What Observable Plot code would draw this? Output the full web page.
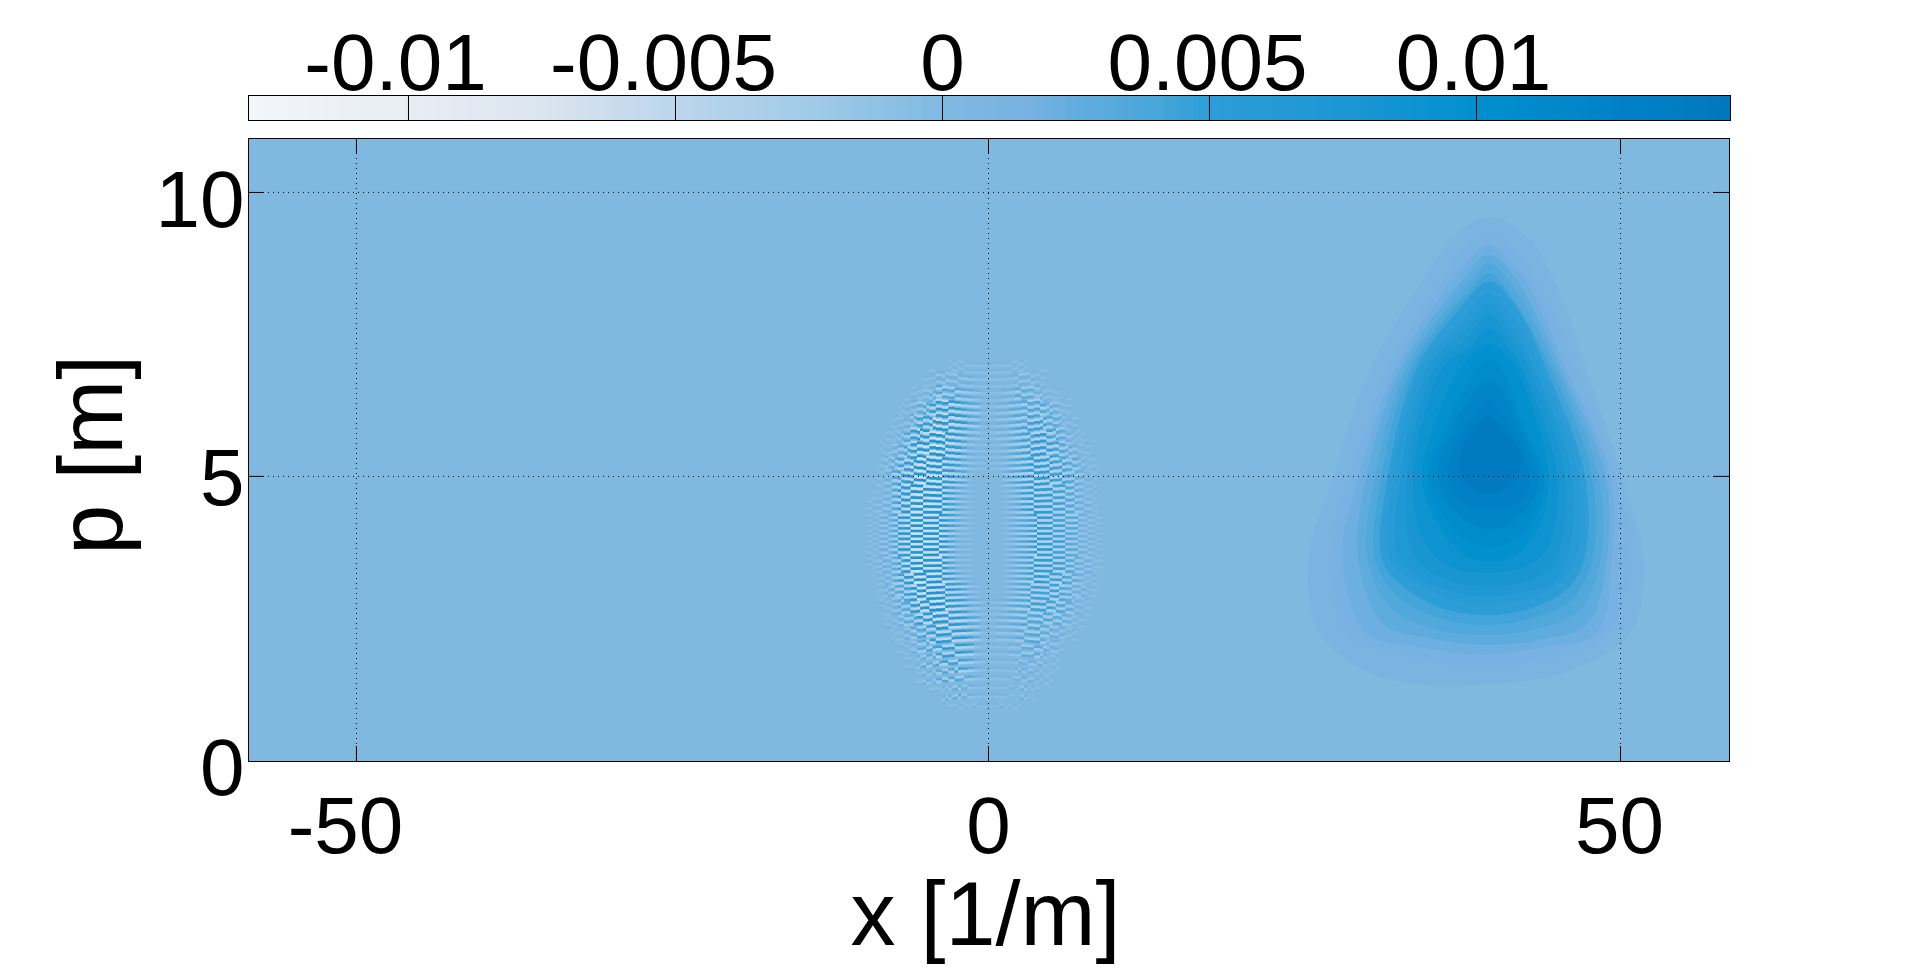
<!DOCTYPE html>
<html>
<head>
<meta charset="utf-8">
<style>html,body{margin:0;padding:0;background:#fff}svg{display:block}</style>
<script src="https://cdn.jsdelivr.net/npm/d3@7"></script>
<script src="https://cdn.jsdelivr.net/npm/@observablehq/plot@0.6"></script>
</head>
<body>
<div id="bar"></div>
<div id="main"></div>
<script>
// ---- axes ----
const xDomain = [-58.54, 58.62];
const pDomain = [-0.02, 10.95];
const barDomain = [-0.012996, 0.014757];
const xTicks = [-50, 0, 50];
const xTickShift = [-11, 0, -1];
const pTicks = [0, 5, 10];
const pTickShift = [9, 3, 9];
const barTicks = [-0.01, -0.005, 0, 0.005, 0.01];
const barTickShift = [-13, -12, 0, -2, -3];
const xTitle = "x [1/m]";
const pTitle = "p [m]";

// ---- colour map ----
const colorValues = [-0.013, -0.01, -0.0075, -0.005, -0.0025, 0, 0.0015, 0.0025, 0.004, 0.005, 0.0075, 0.01, 0.0125, 0.0148];
const colorStops = ["#f2f5f9", "#e8edf4", "#dbe5ef", "#bbd5ec", "#a0cbe8", "#7fb9e0", "#78b2e2", "#62acde", "#47a6da", "#2c9dd7", "#1c96d3", "#0090ce", "#0082c8", "#0077be"];

// ---- right-hand lobe: filled contours, [x, p] ----
const contourLevels = [0.001, 0.0015, 0.002, 0.0027, 0.0035, 0.0042, 0.005, 0.0058, 0.0068, 0.0078, 0.0088, 0.0098, 0.0108, 0.0119, 0.013, 0.014];
const contour01 = [[39.6,9.57],[42.6,9.22],[44.85,8.4],[47.2,6.93],[50.1,5],[51.8,3.53],[50.75,2.24],[45.75,1.56],[38.9,1.33],[31,1.47],[26.2,2.24],[25.3,3.53],[27.3,5],[30.3,6.93],[34.2,8.4],[36.8,9.22]];
const contour02 = [[39.6,9.25],[41.6,8.96],[43.5,8.4],[46.4,6.93],[49.6,5],[50.65,3.53],[49.05,2.24],[44.5,1.8],[39,1.65],[32.5,1.85],[28.4,2.24],[26.9,3.53],[28.6,5],[31.65,6.93],[35.75,8.4],[37.5,8.96]];
const contour03 = [[39.6,9.08],[41.1,8.8],[42.7,8.4],[45.6,6.93],[49.2,5],[49.3,3.53],[48.1,2.24],[43.5,1.98],[39.2,1.86],[34,2],[29.9,2.24],[28,3.53],[29.3,5],[32.3,6.93],[36.5,8.4],[38,8.8]];
const contour04 = [[39.6,8.9],[41.95,8.4],[45.2,6.93],[48.8,5],[48.9,3.53],[47.35,2.4],[43.5,2.12],[39.3,2.03],[35,2.15],[31.25,2.4],[29.25,3.53],[29.9,5],[32.7,6.93],[37.3,8.4]];
const contour05 = [[39.6,8.75],[41.3,8.4],[44.85,6.93],[48.25,5],[48.4,3.53],[46.8,2.65],[43,2.3],[39.3,2.21],[35.5,2.3],[32,2.65],[30,3.53],[30.6,5],[33.1,6.93],[38,8.4]];
const contour06 = [[39.6,8.58],[40.8,8.35],[44.45,6.93],[47.75,5],[47.75,3.53],[46.2,2.85],[43,2.5],[39.4,2.39],[35.8,2.5],[32.6,2.85],[30.6,3.53],[31.1,5],[33.5,6.93],[38.4,8.35]];
const contour07 = [[39.6,8.43],[42,7.9],[44.05,6.93],[47.2,5],[47.1,3.53],[45.7,3],[42.8,2.67],[39.4,2.56],[36,2.67],[33.2,3],[31.15,3.53],[31.6,5],[33.9,6.93],[37.1,7.9]];
const contour08 = [[39.6,8.22],[41.8,7.7],[43.65,6.93],[46.7,5],[46.4,3.53],[45,3.1],[42.6,2.85],[39.4,2.74],[36.4,2.85],[33.8,3.15],[31.8,3.53],[32.05,5],[34.3,6.93],[37.3,7.7]];
const contour09 = [[39.6,8.05],[41.6,7.55],[43.1,6.93],[46.15,5],[45.75,3.53],[44.5,3.1],[42.2,2.97],[39.4,2.88],[36.8,2.97],[34.3,3.2],[32.4,3.6],[32.6,5],[34.8,6.93],[37.5,7.55]];
const contour10 = [[39.6,7.84],[41.4,7.4],[42.7,6.93],[45.6,5],[45,3.6],[43.6,3.25],[39.5,3.06],[35.5,3.25],[33.6,3.65],[33.1,5],[35.35,6.93],[37.7,7.4]];
const contour11 = [[39.6,7.61],[41.2,7.25],[42.1,6.93],[45,5],[44.2,3.75],[42.5,3.42],[39.5,3.3],[36.5,3.42],[34.6,3.8],[33.6,5],[36,6.93],[37.9,7.25]];
const contour12 = [[39.56,7.34],[41.3,7.05],[43.25,6.05],[44.3,5],[43.65,4.18],[41.55,3.59],[39.56,3.5],[37.85,3.59],[35.5,4.18],[34.3,5],[35.5,6.05],[37.85,7.05]];
const contour13 = [[39.56,7.05],[40.9,6.76],[42.2,5.94],[43.9,5],[43.25,4.29],[41.55,3.88],[39.7,3.76],[37.85,3.88],[36,4.29],[34.8,5],[36.3,5.94],[38.25,6.76]];
const contour14 = [[39.56,6.7],[41,6.4],[42.3,5.76],[43.5,5],[42.6,4.41],[39.7,4.06],[36.8,4.41],[35.5,5],[36.5,5.76],[38.1,6.4]];
const contour15 = [[39.56,6.35],[40.75,6.05],[42.1,5.58],[42.85,5],[42.1,4.59],[39.7,4.41],[37.3,4.59],[36.3,5],[36.9,5.58],[38.4,6.05]];
const contour16 = [[39.56,6.05],[41,5.76],[42.2,5.35],[41.55,4.88],[39.56,4.7],[37.6,4.88],[37.3,5.35],[38,5.76]];
const contours = [contour01, contour02, contour03, contour04, contour05, contour06, contour07, contour08, contour09, contour10, contour11, contour12, contour13, contour14, contour15, contour16];

// ---- interference fringes in the middle ----
// stripe positions at x = 0, top to bottom, and how much each one bends away from x = 0
const stripeP = [7.0,6.88,6.76,6.64,6.52,6.4,6.285,6.17,6.055,5.94,
  5.83,5.72,5.61,5.5,5.395,5.29,5.19,5.09,4.99,4.895,
  4.8,4.705,4.61,4.517,4.424,4.331,4.238,4.145,4.052,3.959,
  3.866,3.773,3.68,3.587,3.494,3.401,3.308,3.215,3.122,3.029,
  2.936,2.84,2.74,2.635,2.53,2.42,2.305,2.185,2.06,1.93,
  1.79,1.645,1.495,1.34,1.18,1.01,0.84];
const stripeBend = [1,1,1,0.95,0.95,0.9,0.9,0.85,0.85,0.8,
  0.75,0.7,0.65,0.6,0.55,0.5,0.45,0.4,0.35,0.3,
  0.25,0.2,0.15,0.1,0.05,0,0,0,0,0,
  0,0,-0.03,-0.03,-0.06,-0.06,-0.1,-0.13,-0.16,-0.2,
  -0.23,-0.26,-0.3,-0.33,-0.36,-0.4,-0.42,-0.45,-0.49,-0.52,
  -0.55,-0.58,-0.58,-0.62,-0.65,-0.65,-0.65];
const stripeHalf = 0.046;
const lightShare = 0.85;
// rise of a stripe per half unit of |x|
const riseByAbsX = [0,0.002,0.006,0.012,0.022,0.034,0.05,0.068,0.09,0.114,0.14,0.168,0.2,0.236,0.274,0.316,0.36,0.408,0.46,0.51,0.56];
// fringe amplitude: rows every 0.25 of p from 7.25 down; left half x=-10..-0.5, right half x=0.5..10, steps of 0.5
const ampUnit = 0.0009;
const ampLeft = ["00000000000000000000","00000000000000111111","00000000001122222211","00000000112344443321","00000011234667765431","00000112356888876431","00001124678998865321","00011235789998764211","00012356899987653211","00112457899987643100","00112468999987532100","01122468999987532100","01122468999987532100","01122468999987421100","01122468999987421100","01122358999987421100","00112357999987532100","00012345789987654210","00011234678998765321","00001123467888776431","00000112345677766531","00000011234556666521","00000001123345555421","00000000012234443321","00000000000112232211","00000000000000111111","00000000000000000000"];
const ampRight = ["00000000000000000000","11111100000000000000","11112221100000000000","11223332211000000000","12233444432110000000","12234455543211000000","12234556654321100000","11234566665432110000","11234566665543211000","00234566665543211000","00123566665543211000","00123566665543221000","00123456665544221100","00123456665543221100","00123456665543221100","00123456665543221100","00123456655543211000","00123455555432211000","11234455554432110000","12233444443321100000","12223344332211000000","11122333322100000000","11112222211000000000","11112221110000000000","11111211000000000000","11111000000000000000","00000000000000000000"];
// half width of the fringe patch per row, and where the dash pattern flips as a share of it
const patchHalfWidth = [1,4.8,6.5,7.2,7.9,8.3,8.7,9,9.3,9.6,9.7,9.8,9.9,9.9,9.9,9.8,9.5,9.2,8.8,8.3,7.8,7,6.2,5.2,4,2.6,1];
const flipShares = [0.38,0.52,0.62,0.71,0.79,0.86,0.93];
const fringeColumns = [];
for (let i = -40; i <= 40; i++) fringeColumns.push(i * 0.25);

const fringeCells = [];
stripeP.forEach((p0, s) => {
  fringeColumns.forEach((x) => {
    const ax = Math.abs(x);
    const p = p0 + stripeBend[s] * riseByAbsX[Math.round(ax / 0.5)];
    const row = Math.round((7.25 - p) / 0.25);
    if (row < 0 || row > 26) return;
    const hw = patchHalfWidth[row];
    const col = Math.round(ax / 0.5) - 1;
    const digits = x < 0 ? ampLeft[row] : ampRight[row];
    const d = col < 0 ? 0 : x < 0 ? +digits[19 - col] : +digits[col];
    if (!d) return;
    const flips = flipShares.filter((f) => f < ax / hw).length;
    const v = (flips % 2 ? -1 : 1) * d * ampUnit;
    const tone = (a) => (a < 0 ? a * lightShare : a);
    fringeCells.push({x1: x - 0.125, x2: x + 0.125, y1: p, y2: p - stripeHalf, value: tone(v)});
    fringeCells.push({x1: x - 0.125, x2: x + 0.125, y1: p - stripeHalf, y2: p - 2 * stripeHalf, value: tone(-v)});
  });
});

const contourTable = contours.flatMap((c, i) => c.map(([x, p]) => ({x, p, level: i, value: contourLevels[i]})));
const background = [{x1: xDomain[0], x2: xDomain[1], y1: pDomain[0], y2: pDomain[1], value: 0}];

const font = "'Liberation Sans', Arial, sans-serif";
const colorScale = {type: "linear", domain: colorValues, range: colorStops, clamp: true};
const tickLenX = 1.19, tickLenP = 0.264;

// ---- colour bar ----
const barCells = [];
for (let v = barDomain[0]; v < barDomain[1] - 0.00005; v += 0.0001) barCells.push({x1: v, x2: Math.min(v + 0.00012, barDomain[1]), value: v});

const bar = Plot.plot({
  width: 1910, height: 130,
  marginLeft: 248, marginRight: 180, marginTop: 95, marginBottom: 10,
  style: {fontFamily: font, background: "#fff", overflow: "visible", color: "#000"},
  x: {domain: barDomain},
  y: {domain: [0, 1], axis: null},
  color: colorScale,
  marks: [
    Plot.rect(barCells, {x1: "x1", x2: "x2", y1: 0, y2: 1, fill: "value", shapeRendering: "crispEdges"}),
    Plot.ruleX(barTicks, {stroke: "#000", strokeWidth: 1}),
    Plot.frame({stroke: "#000", strokeWidth: 1}),
    ...barTicks.map((t, i) => Plot.axisX([t], {anchor: "top", tickSize: 0, tickPadding: 6, fontSize: 80, dx: barTickShift[i], tickFormat: (d) => String(d), label: null, fill: "#000"}))
  ]
});
document.getElementById("bar").append(bar);

// ---- main panel ----
const main = Plot.plot({
  width: 1910, height: 844,
  marginLeft: 248, marginRight: 181, marginTop: 8, marginBottom: 213,
  style: {fontFamily: font, background: "#fff", overflow: "visible", color: "#000"},
  x: {domain: xDomain},
  y: {domain: pDomain},
  color: colorScale,
  marks: [
    Plot.rect(background, {x1: "x1", x2: "x2", y1: "y1", y2: "y2", fill: "value"}),
    Plot.line(contourTable, {x: "x", y: "p", z: "level", fill: "value", stroke: "none", curve: "catmull-rom-closed"}),
    Plot.rect(fringeCells, {x1: "x1", x2: "x2", y1: "y1", y2: "y2", fill: "value", imageFilter: "blur(0.7px)"}),
    Plot.ruleX(xTicks, {stroke: "#000", strokeWidth: 1, strokeDasharray: "1 4"}),
    Plot.ruleY(pTicks.filter((d) => d > 0), {stroke: "#000", strokeWidth: 1, strokeDasharray: "1 4"}),
    Plot.ruleX(xTicks, {y1: pDomain[0], y2: pDomain[0] + tickLenP, stroke: "#000"}),
    Plot.ruleX(xTicks, {y1: pDomain[1], y2: pDomain[1] - tickLenP, stroke: "#000"}),
    Plot.ruleY(pTicks.filter((d) => d > 0), {x1: xDomain[0], x2: xDomain[0] + tickLenX, stroke: "#000"}),
    Plot.ruleY(pTicks.filter((d) => d > 0), {x1: xDomain[1], x2: xDomain[1] - tickLenX, stroke: "#000"}),
    Plot.frame({stroke: "#000", strokeWidth: 1}),
    ...xTicks.map((t, i) => Plot.axisX([t], {anchor: "bottom", tickSize: 0, tickPadding: 35, fontSize: 80, dx: xTickShift[i], tickFormat: (d) => String(d), label: null, fill: "#000"})),
    ...pTicks.map((t, i) => Plot.axisY([t], {anchor: "left", tickSize: 0, tickPadding: 4, fontSize: 80, dy: pTickShift[i], tickFormat: (d) => String(d), label: null, fill: "#000"})),
    Plot.text([xTitle], {x: 0, y: pDomain[0], text: (d) => d, fontSize: 90, dy: 155, dx: -3, lineAnchor: "middle", fill: "#000"}),
    Plot.text([pTitle], {x: xDomain[0], y: 5.38, text: (d) => d, fontSize: 90, rotate: -90, dx: -155, lineAnchor: "middle", fill: "#000"})
  ]
});
document.getElementById("main").append(main);
</script>
</body>
</html>
